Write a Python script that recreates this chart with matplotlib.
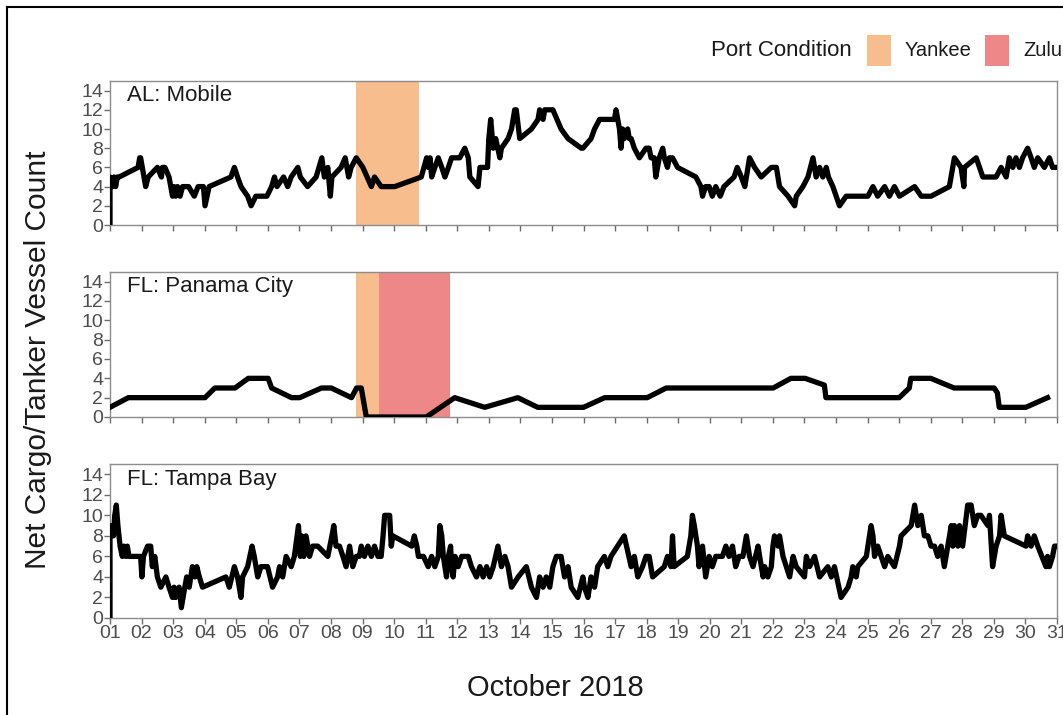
import matplotlib
matplotlib.use('Agg')
import matplotlib.pyplot as plt
from matplotlib.patches import Rectangle
from matplotlib.lines import Line2D

plt.rcParams['font.family'] = ['Liberation Sans', 'DejaVu Sans']

# net cargo/tanker vessel counts, x in fractional days of October 2018
mobile_day = [1.00, 1.00, 1.07, 1.13, 1.18, 1.23, 1.29, 1.89, 1.94, 1.97, 2.13, 2.21,
              2.50, 2.63, 2.66, 2.74, 2.87, 2.98, 3.03, 3.08, 3.14, 3.22, 3.30, 3.49,
              3.67, 3.79, 3.96, 4.01, 4.14, 4.83, 4.94, 5.04, 5.15, 5.36, 5.47, 5.62,
              5.97, 6.12, 6.21, 6.29, 6.50, 6.63, 6.74, 6.95, 7.03, 7.26, 7.53, 7.71,
              7.79, 7.90, 7.98, 8.03, 8.32, 8.45, 8.56, 8.64, 8.80, 9.01, 9.28, 9.38,
              9.59, 10.02, 10.86, 11.03, 11.08, 11.14, 11.19, 11.29, 11.40, 11.51, 11.61,
              11.72, 11.82, 12.08, 12.24, 12.35, 12.40, 12.66, 12.72, 12.96, 13.00, 13.06,
              13.14, 13.22, 13.35, 13.40, 13.61, 13.72, 13.82, 13.87, 13.98, 14.35, 14.56,
              14.61, 14.72, 14.77, 15.03, 15.29, 15.51, 15.93, 15.98, 16.24, 16.35, 16.51,
              16.98, 17.03, 17.14, 17.19, 17.24, 17.29, 17.40, 17.45, 17.51, 17.61, 17.77,
              17.98, 18.08, 18.14, 18.24, 18.29, 18.40, 18.51, 18.56, 18.66, 18.72, 18.82,
              18.98, 19.56, 19.72, 19.77, 19.87, 19.98, 20.08, 20.19, 20.33, 20.45, 20.77,
              20.87, 21.00, 21.11, 21.26, 21.42, 21.63, 21.95, 22.11, 22.21, 22.48, 22.69,
              22.74, 22.95, 23.11, 23.27, 23.37, 23.48, 23.58, 23.69, 23.76, 23.90, 24.11,
              24.32, 25.01, 25.17, 25.32, 25.54, 25.69, 25.85, 26.01, 26.49, 26.70, 27.01,
              27.59, 27.75, 27.96, 28.05, 28.07, 28.44, 28.65, 29.07, 29.23, 29.39, 29.49,
              29.60, 29.70, 29.81, 29.91, 30.07, 30.18, 30.28, 30.39, 30.60, 30.76, 30.86,
              31.00]
mobile_count = [0, 5, 4, 5, 4, 5, 5, 6, 7, 7, 4, 5,
                6, 5, 6, 6, 5, 3, 4, 3, 4, 3, 4, 4,
                3, 4, 4, 2, 4, 5, 6, 5, 4, 3, 2, 3,
                3, 4, 5, 4, 5, 4, 5, 6, 5, 4, 5, 7,
                5, 6, 3, 5, 6, 7, 5, 6, 7, 6, 4, 5,
                4, 4, 5, 7, 6, 7, 5, 6, 7, 6, 5,
                6, 7, 7, 8, 7, 5, 4, 6, 6, 9, 11,
                8, 9, 7, 8, 9, 10, 12, 12, 9, 10, 11,
                12, 11, 12, 12, 10, 9, 8, 8, 9, 10, 11,
                11, 12, 10, 8, 10, 9, 10, 9, 9, 8, 7,
                8, 8, 7, 7, 5, 7, 8, 7, 6, 7, 7,
                6, 5, 4, 3, 4, 4, 3, 4, 3, 4, 5,
                6, 5, 4, 7, 6, 5, 6, 6, 4, 3, 2,
                3, 4, 5, 7, 5, 6, 5, 6, 5, 4, 2,
                3, 3, 4, 3, 4, 3, 4, 3, 4, 3, 3,
                4, 7, 6, 4, 6, 7, 5, 5, 6, 5, 7,
                6, 7, 6, 7, 8, 7, 6, 7, 6, 7, 6,
                6]

panama_day = [1.00, 1.58, 4.01, 4.32, 4.96, 5.38, 6.01, 6.12, 6.75, 7.01, 7.70, 8.01,
              8.65, 8.81, 8.96, 9.12, 11.02, 11.92, 12.87, 13.92, 14.55, 16.00, 16.67,
              18.02, 18.62, 22.01, 22.57, 23.02, 23.63, 23.68, 26.00, 26.32, 26.37, 27.00,
              27.74, 29.01, 29.11, 29.17, 30.01, 30.70]
panama_count = [1, 2, 2, 3, 3, 4, 4, 3, 2, 2, 3, 3,
                2, 3, 3, 0, 0, 2, 1, 2, 1, 1, 2,
                2, 3, 3, 4, 4, 3.3, 2, 2, 3, 4, 4,
                3, 3, 2.5, 1, 1, 2]

tampa_day = [1.00, 1.00, 1.04, 1.11, 1.15, 1.20, 1.25, 1.32, 1.39, 1.44, 1.50, 1.55,
             1.60, 1.97, 2.01, 2.06, 2.19, 2.29, 2.34, 2.42, 2.50, 2.61, 2.77, 2.87,
             2.98, 3.03, 3.08, 3.19, 3.26, 3.37, 3.43, 3.51, 3.61, 3.69, 3.75, 3.83,
             3.93, 4.67, 4.78, 4.94, 5.04, 5.15, 5.20, 5.36, 5.50, 5.57, 5.68, 5.78,
             5.99, 6.15, 6.31, 6.37, 6.47, 6.58, 6.74, 6.84, 6.97, 7.03, 7.07, 7.14,
             7.21, 7.32, 7.42, 7.58, 7.90, 8.03, 8.09, 8.16, 8.27, 8.38, 8.48, 8.59,
             8.69, 8.80, 8.90, 8.96, 9.06, 9.17, 9.28, 9.38, 9.49, 9.59, 9.65, 9.70,
             9.86, 9.91, 9.96, 10.56, 10.64, 10.72, 10.77, 10.93, 11.08, 11.19, 11.29,
             11.40, 11.45, 11.51, 11.56, 11.66, 11.72, 11.79, 11.82, 11.87, 11.93, 12.03,
             12.14, 12.35, 12.45, 12.61, 12.72, 12.82, 12.93, 13.03, 13.14, 13.29, 13.40,
             13.51, 13.61, 13.72, 13.93, 14.19, 14.35, 14.51, 14.61, 14.72, 14.82, 14.93,
             15.03, 15.14, 15.29, 15.40, 15.51, 15.61, 15.82, 15.98, 16.03, 16.14, 16.24,
             16.35, 16.45, 16.66, 16.77, 16.87, 17.29, 17.51, 17.61, 17.72, 17.87, 17.98,
             18.08, 18.19, 18.56, 18.66, 18.77, 18.82, 18.87, 19.29, 19.40, 19.45, 19.51,
             19.61, 19.66, 19.77, 19.87, 19.98, 20.08, 20.19, 20.40, 20.51, 20.61, 20.72,
             20.82, 20.93, 21.05, 21.16, 21.26, 21.37, 21.53, 21.58, 21.69, 21.74, 21.84,
             21.95, 22.00, 22.05, 22.16, 22.21, 22.32, 22.53, 22.64, 22.74, 23.00, 23.06,
             23.16, 23.32, 23.48, 23.74, 23.85, 23.95, 24.16, 24.38, 24.48, 24.53, 24.64,
             24.69, 24.96, 25.06, 25.11, 25.17, 25.22, 25.32, 25.43, 25.54, 25.64, 25.85,
             26.01, 26.06, 26.38, 26.49, 26.59, 26.70, 26.80, 26.91, 27.01, 27.12, 27.22,
             27.33, 27.43, 27.54, 27.65, 27.70, 27.75, 27.86, 27.91, 28.01, 28.17, 28.28,
             28.38, 28.49, 28.59, 28.81, 28.86, 28.96, 29.07, 29.18, 29.23, 29.33, 30.02,
             30.07, 30.18, 30.28, 30.39, 30.65, 30.70, 30.76, 30.86, 30.92, 31.00]
tampa_count = [0, 8, 9, 8, 10, 11, 9, 7, 6, 7, 6, 7,
               6, 6, 4, 6, 7, 7, 5, 6, 4, 3, 4, 3,
               2, 3, 2, 3, 1, 3, 4, 3, 5, 4, 5, 4,
               3, 4, 3, 5, 4, 2, 4, 5, 7, 6, 4, 5,
               5, 3, 4, 5, 4, 6, 5, 6, 9, 6, 8, 6,
               8, 6, 7, 7, 6, 8, 9, 7, 7, 6, 5, 7,
               5, 6, 6, 7, 6, 7, 6, 7, 6, 6, 8, 10,
               10, 7, 8, 7, 8, 7, 6, 6, 5, 6, 5,
               6, 9, 8, 6, 4, 6, 7, 5, 4, 6, 5,
               6, 6, 5, 4, 5, 4, 5, 4, 5, 7, 5,
               6, 5, 3, 4, 5, 3, 2, 4, 3, 4, 3,
               5, 6, 6, 4, 5, 3, 2, 4, 3, 2, 4,
               3, 5, 6, 5, 6, 8, 5, 6, 4, 5, 6,
               6, 4, 5, 6, 5, 8, 5, 6, 8, 10, 9,
               7, 5, 7, 4, 6, 5, 6, 6, 7, 6, 7,
               5, 6, 6, 8, 6, 5, 7, 6, 4, 5, 4,
               5, 7, 8, 7, 8, 6, 4, 6, 5, 4, 6,
               5, 6, 4, 5, 4, 5, 2, 3, 4, 5, 4,
               5, 6, 8, 9, 8, 6, 7, 6, 5, 6, 5,
               7, 8, 9, 11, 9, 10, 8, 8, 7, 7, 6,
               7, 5, 7, 9, 7, 9, 7, 9, 7, 11, 11,
               9, 10, 10, 9, 10, 5, 7, 8, 10, 8, 7,
               8, 7, 8, 7, 5, 6, 5, 6, 7, 7]

ports = ['AL: Mobile', 'FL: Panama City', 'FL: Tampa Bay']
series = [(mobile_day, mobile_count), (panama_day, panama_count), (tampa_day, tampa_count)]

# port condition periods (start day, end day, condition) per port
conditions = [
    [(8.79, 10.78, 'Yankee')],
    [(8.79, 9.52, 'Yankee'), (9.52, 11.78, 'Zulu')],
    [],
]
cond_colors = {'Yankee': '#f8bd8c', 'Zulu': '#ee8888'}

day_ticks = list(range(1, 32))
day_labels = ['%02d' % d for d in day_ticks]
y_ticks = [0, 2, 4, 6, 8, 10, 12, 14]

W, H = 1063, 715
fig = plt.figure(figsize=(W / 100, H / 100), dpi=100)

# panel extents in pixels: (top, bottom)
panel_px = [(81, 225), (272, 417), (464, 618)]
left_px, right_px = 110, 1057

axes = []
for i, (top, bot) in enumerate(panel_px):
    ax = fig.add_axes([left_px / W, 1 - bot / H, (right_px - left_px) / W, (bot - top) / H])
    for start, end, cond in conditions[i]:
        ax.axvspan(start, end, color=cond_colors[cond], lw=0, zorder=1)
    x, y = series[i]
    ax.plot(x, y, color='black', lw=3.8, zorder=3)
    ax.set_xlim(1, 31)
    ax.set_ylim(0, 15)
    ax.set_xticks(day_ticks)
    ax.set_yticks(y_ticks)
    ax.set_yticklabels([str(v) for v in y_ticks])
    if i < 2:
        ax.set_xticklabels([])
    else:
        ax.set_xticklabels(day_labels)
    ax.tick_params(direction='out', length=4, width=1, color='#6e6e6e',
                   labelcolor='#4d4d4d', labelsize=14, pad=1)
    for sp in ax.spines.values():
        sp.set_color('#8c8c8c')
        sp.set_linewidth(1)
    ax.text(0.018, 0.97, ports[i], transform=ax.transAxes, ha='left', va='top',
            fontsize=16, color='#1a1a1a')
    axes.append(ax)

fig.text(38 / W, 1 - 360 / H, 'Net Cargo/Tanker Vessel Count', rotation=90,
         ha='center', va='center', fontsize=21.5, color='#1a1a1a')
fig.text(555 / W, 1 - 688 / H, 'October 2018', ha='center', va='center',
         fontsize=21, color='#1a1a1a')

# legend across the top
ly = 1 - 50 / H
fig.text(711 / W, ly, 'Port Condition', ha='left', va='center', fontsize=16, color='#1a1a1a')
for x0, label in [(867, 'Yankee'), (985, 'Zulu')]:
    fig.patches.append(Rectangle((x0 / W, 1 - 66 / H), 24 / W, 31 / H,
                                 transform=fig.transFigure, color=cond_colors[label], lw=0))
    fig.text((x0 + 38) / W, ly, label, ha='left', va='center', fontsize=14.5, color='#1a1a1a')

# outer frame
fig.lines.append(Line2D([7 / W, 7 / W], [0, 1 - 7 / H], transform=fig.transFigure,
                        color='black', lw=1.5))
fig.lines.append(Line2D([7 / W, 1], [1 - 7 / H, 1 - 7 / H], transform=fig.transFigure,
                        color='black', lw=1.5))

fig.savefig('out.png', dpi=100, facecolor='white')
